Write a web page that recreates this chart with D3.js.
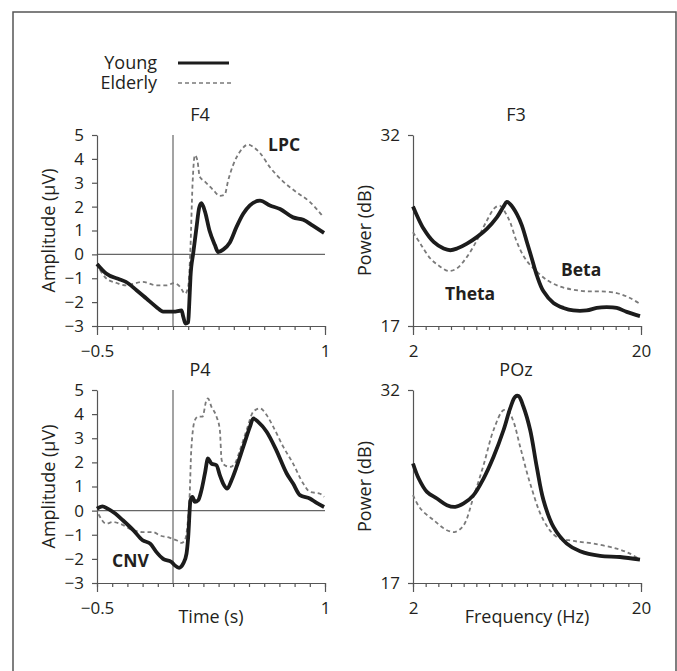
<!DOCTYPE html>
<meta charset="utf-8">
<body>
<style>
body { margin: 0; background: #fff; }
text { font-family: "Open Sans", "Noto Sans", sans-serif; fill: #231f20; }
.axis path, .axis line { stroke: #555; stroke-width: 1.2px; }
.axis text { font-size: 17px; fill: #231f20; }
.label { font-size: 18px; }
.note { font-size: 17.5px; font-weight: bold; }
</style>
<script src="https://d3js.org/d3.v7.min.js"></script>
<script>

// ERP amplitude (uV) vs time (s)
var f4Young = [[-0.5,-0.4],[-0.44,-0.8],[-0.35,-1.05],[-0.31,-1.15],[-0.24,-1.5],[-0.175,-1.85],[-0.11,-2.2],[-0.065,-2.4],[0.005,-2.4],[0.056,-2.35],[0.067,-2.6],[0.082,-2.9],[0.1,-2.85],[0.106,-2.2],[0.115,-0.95],[0.133,0.05],[0.155,1.15],[0.172,1.95],[0.187,2.15],[0.21,1.8],[0.24,1.0],[0.275,0.4],[0.297,0.1],[0.33,0.2],[0.374,0.5],[0.418,1.15],[0.462,1.7],[0.506,2.05],[0.572,2.25],[0.638,2.05],[0.704,1.9],[0.79,1.55],[0.857,1.45],[0.92,1.2],[0.994,0.9]];
var f4Elderly = [[-0.48,-0.65],[-0.44,-1.0],[-0.37,-1.2],[-0.31,-1.3],[-0.2,-1.15],[-0.11,-1.3],[-0.04,-1.3],[0.005,-1.2],[0.045,-1.35],[0.08,-1.65],[0.1,-1.35],[0.115,0.3],[0.128,2.85],[0.144,4.15],[0.16,3.95],[0.176,3.25],[0.21,3.05],[0.264,2.7],[0.308,2.45],[0.34,2.5],[0.363,3.1],[0.396,3.75],[0.44,4.3],[0.495,4.6],[0.528,4.5],[0.572,4.25],[0.638,3.65],[0.725,3.05],[0.813,2.6],[0.9,2.2],[0.978,1.65]];
var p4Young = [[-0.5,0.08],[-0.465,0.18],[-0.43,0.08],[-0.38,-0.12],[-0.33,-0.4],[-0.26,-0.82],[-0.2,-1.23],[-0.15,-1.37],[-0.11,-1.71],[-0.065,-2.0],[-0.01,-2.13],[0.012,-2.27],[0.04,-2.37],[0.067,-2.2],[0.089,-1.78],[0.1,-1.1],[0.115,0.43],[0.128,0.57],[0.144,0.36],[0.166,0.43],[0.187,0.84],[0.21,1.54],[0.23,2.16],[0.253,1.95],[0.286,1.88],[0.308,1.47],[0.33,1.12],[0.357,0.91],[0.385,1.26],[0.418,1.81],[0.462,2.64],[0.506,3.47],[0.528,3.82],[0.56,3.68],[0.616,3.27],[0.68,2.5],[0.748,1.54],[0.79,1.12],[0.835,0.64],[0.9,0.5],[0.945,0.32],[0.994,0.15]];
var p4Elderly = [[-0.49,-0.15],[-0.44,-0.54],[-0.395,-0.47],[-0.35,-0.54],[-0.26,-0.82],[-0.2,-0.89],[-0.13,-0.89],[-0.09,-1.02],[-0.02,-1.13],[0.023,-1.23],[0.056,-1.34],[0.078,-1.23],[0.1,-0.26],[0.11,0.7],[0.12,2.5],[0.144,3.75],[0.166,3.9],[0.194,3.9],[0.22,4.58],[0.23,4.65],[0.253,4.3],[0.286,3.9],[0.308,3.35],[0.32,2.1],[0.34,1.88],[0.374,1.81],[0.407,1.95],[0.44,2.5],[0.484,3.33],[0.528,4.1],[0.572,4.24],[0.616,3.96],[0.66,3.47],[0.726,2.64],[0.79,1.95],[0.857,1.12],[0.9,0.78],[0.967,0.7],[0.994,0.57]];

// power (dB) vs frequency (Hz)
var f3Young = [[2,26.39],[2.32,25.66],[2.84,24.63],[3.63,23.6],[4.42,23.08],[4.94,22.95],[5.47,23.08],[6.26,23.47],[7.04,23.98],[7.83,24.63],[8.62,25.53],[9.15,26.39],[9.41,26.75],[9.67,26.57],[10.2,25.79],[10.6,24.89],[10.99,23.6],[11.38,22.3],[11.77,21.0],[12.3,19.72],[13.09,18.81],[13.88,18.42],[14.66,18.22],[15.71,18.22],[16.5,18.42],[17.29,18.48],[18.08,18.42],[18.87,18.11],[19.92,17.78]];
var f3Elderly = [[2,24.37],[2.58,23.47],[3.37,22.3],[4.15,21.66],[4.81,21.32],[5.47,21.53],[6.26,22.43],[7.04,23.72],[7.83,25.28],[8.49,26.31],[8.88,26.44],[9.28,25.92],[9.67,25.15],[10.2,23.6],[10.85,22.3],[11.51,21.53],[12.56,20.62],[13.61,20.1],[14.66,19.85],[15.71,19.72],[16.76,19.72],[18.08,19.59],[19.13,19.2],[19.92,18.73]];
var pozYoung = [[2,26.29],[2.45,25.12],[3.1,24.08],[3.89,23.57],[4.68,23.05],[5.34,22.92],[6.0,23.18],[6.78,23.83],[7.57,25.12],[8.36,26.81],[9.15,28.89],[9.67,30.57],[10.07,31.48],[10.33,31.53],[10.72,30.7],[11.25,28.89],[11.77,26.03],[12.3,23.44],[13.09,21.36],[14.14,20.06],[15.19,19.46],[16.77,19.1],[18.34,19.02],[19.92,18.82]];
var pozElderly = [[2,23.83],[2.58,22.79],[3.63,21.88],[4.68,21.1],[5.34,20.97],[6.0,21.49],[6.78,23.7],[7.57,26.16],[8.36,28.89],[9.15,30.44],[9.55,30.31],[9.94,29.53],[10.46,27.59],[11.25,24.73],[12.3,21.88],[13.35,20.58],[14.66,20.27],[16.24,20.06],[18.08,19.67],[19.13,19.28],[19.92,18.82]];

var timeDomain = [-0.5, 1], ampTicks = d3.range(-3, 6);
var freqDomain = [2, 20], powTicks = [17, 32];

var svg = d3.select("body").append("svg")
    .attr("width", 677)
    .attr("height", 671);

// figure frame
svg.append("rect")
    .attr("x", 13).attr("y", 12)
    .attr("width", 663).attr("height", 700)
    .attr("fill", "none").attr("stroke", "#555").attr("stroke-width", 1.5);

// legend
var legend = svg.append("g");
legend.append("text").attr("class", "label").attr("x", 157).attr("y", 69).attr("text-anchor", "end").text("Young");
legend.append("text").attr("class", "label").attr("x", 157).attr("y", 89).attr("text-anchor", "end").text("Elderly");
legend.append("line").attr("x1", 178).attr("x2", 229).attr("y1", 63).attr("y2", 63)
    .attr("stroke", "#1c1c1c").attr("stroke-width", 3);
legend.append("line").attr("x1", 178).attr("x2", 231).attr("y1", 83).attr("y2", 83)
    .attr("stroke", "#7a7a7a").attr("stroke-width", 1.6).attr("stroke-dasharray", "4,3");

function panel(o) {
  var x = d3.scaleLinear().domain(o.xd).range([o.x0, o.x1]);
  var y = d3.scaleLinear().domain(o.yd).range([o.yb, o.yt]);
  var g = svg.append("g");

  if (o.erp) {
    g.append("line").attr("x1", o.x0).attr("x2", o.x1).attr("y1", y(0)).attr("y2", y(0))
        .attr("stroke", "#666").attr("stroke-width", 1.2);
    g.append("line").attr("x1", x(0)).attr("x2", x(0)).attr("y1", y(5)).attr("y2", o.yb)
        .attr("stroke", "#666").attr("stroke-width", 1.2);
  }

  // minor ticks, then the labelled end ticks
  g.append("g").attr("class", "axis").attr("transform", "translate(0," + o.yb + ")")
      .call(d3.axisBottom(x).tickValues(o.minor).tickSize(4).tickFormat("").tickSizeOuter(0));
  g.append("g").attr("class", "axis").attr("transform", "translate(0," + o.yb + ")")
      .call(d3.axisBottom(x).tickValues(o.xd).tickSize(9).tickPadding(10).tickFormat(d3.format("")).tickSizeOuter(0));
  g.append("g").attr("class", "axis").attr("transform", "translate(" + o.x0 + ",0)")
      .call(d3.axisLeft(y).tickValues(o.yticks).tickSize(5).tickPadding(8).tickFormat(d3.format("")).tickSizeOuter(0));

  var line = d3.line().x(function(d) { return x(d[0]); }).y(function(d) { return y(d[1]); })
      .curve(o.erp ? d3.curveMonotoneX : d3.curveCatmullRom);

  g.append("path").datum(o.elderly).attr("d", line)
      .attr("fill", "none").attr("stroke", "#7a7a7a").attr("stroke-width", 1.8)
      .attr("stroke-dasharray", "4,3");
  g.append("path").datum(o.young).attr("d", line)
      .attr("fill", "none").attr("stroke", "#1c1c1c").attr("stroke-width", 3.8)
      .attr("stroke-linejoin", "round");

  g.append("text").attr("class", "label").attr("x", (o.x0 + o.x1) / 2 - 11).attr("y", o.yt - 14)
      .attr("text-anchor", "middle").text(o.title);
  g.append("text").attr("class", "label")
      .attr("transform", "translate(" + (o.x0 - 42) + "," + (o.yt + o.yb) / 2 + ") rotate(-90)")
      .attr("text-anchor", "middle").text(o.ylab);
  if (o.xlab) {
    g.append("text").attr("class", "label").attr("x", (o.x0 + o.x1) / 2).attr("y", o.yb + 40)
        .attr("text-anchor", "middle").text(o.xlab);
  }
  (o.notes || []).forEach(function(n) {
    g.append("text").attr("class", "note").attr("x", n[0]).attr("y", n[1]).text(n[2]);
  });
}

panel({ x0: 97, x1: 325, yt: 135, yb: 326, xd: timeDomain, yd: [-3, 5], minor: d3.range(-0.5, 1.001, 0.1),
  yticks: ampTicks, erp: true, young: f4Young, elderly: f4Elderly, title: "F4", ylab: "Amplitude (μV)",
  notes: [[268, 151, "LPC"]] });
panel({ x0: 413, x1: 641, yt: 135, yb: 326, xd: freqDomain, yd: [17, 32], minor: d3.range(2, 20.5, 1),
  yticks: powTicks, erp: false, young: f3Young, elderly: f3Elderly, title: "F3", ylab: "Power (dB)",
  notes: [[445, 300, "Theta"], [561, 276, "Beta"]] });
panel({ x0: 97, x1: 325, yt: 390, yb: 583, xd: timeDomain, yd: [-3, 5], minor: d3.range(-0.5, 1.001, 0.1),
  yticks: ampTicks, erp: true, young: p4Young, elderly: p4Elderly, title: "P4", ylab: "Amplitude (μV)",
  xlab: "Time (s)", notes: [[112, 567, "CNV"]] });
panel({ x0: 413, x1: 641, yt: 390, yb: 583, xd: freqDomain, yd: [17, 32], minor: d3.range(2, 20.5, 1),
  yticks: powTicks, erp: false, young: pozYoung, elderly: pozElderly, title: "POz", ylab: "Power (dB)",
  xlab: "Frequency (Hz)" });

</script>
</body>
